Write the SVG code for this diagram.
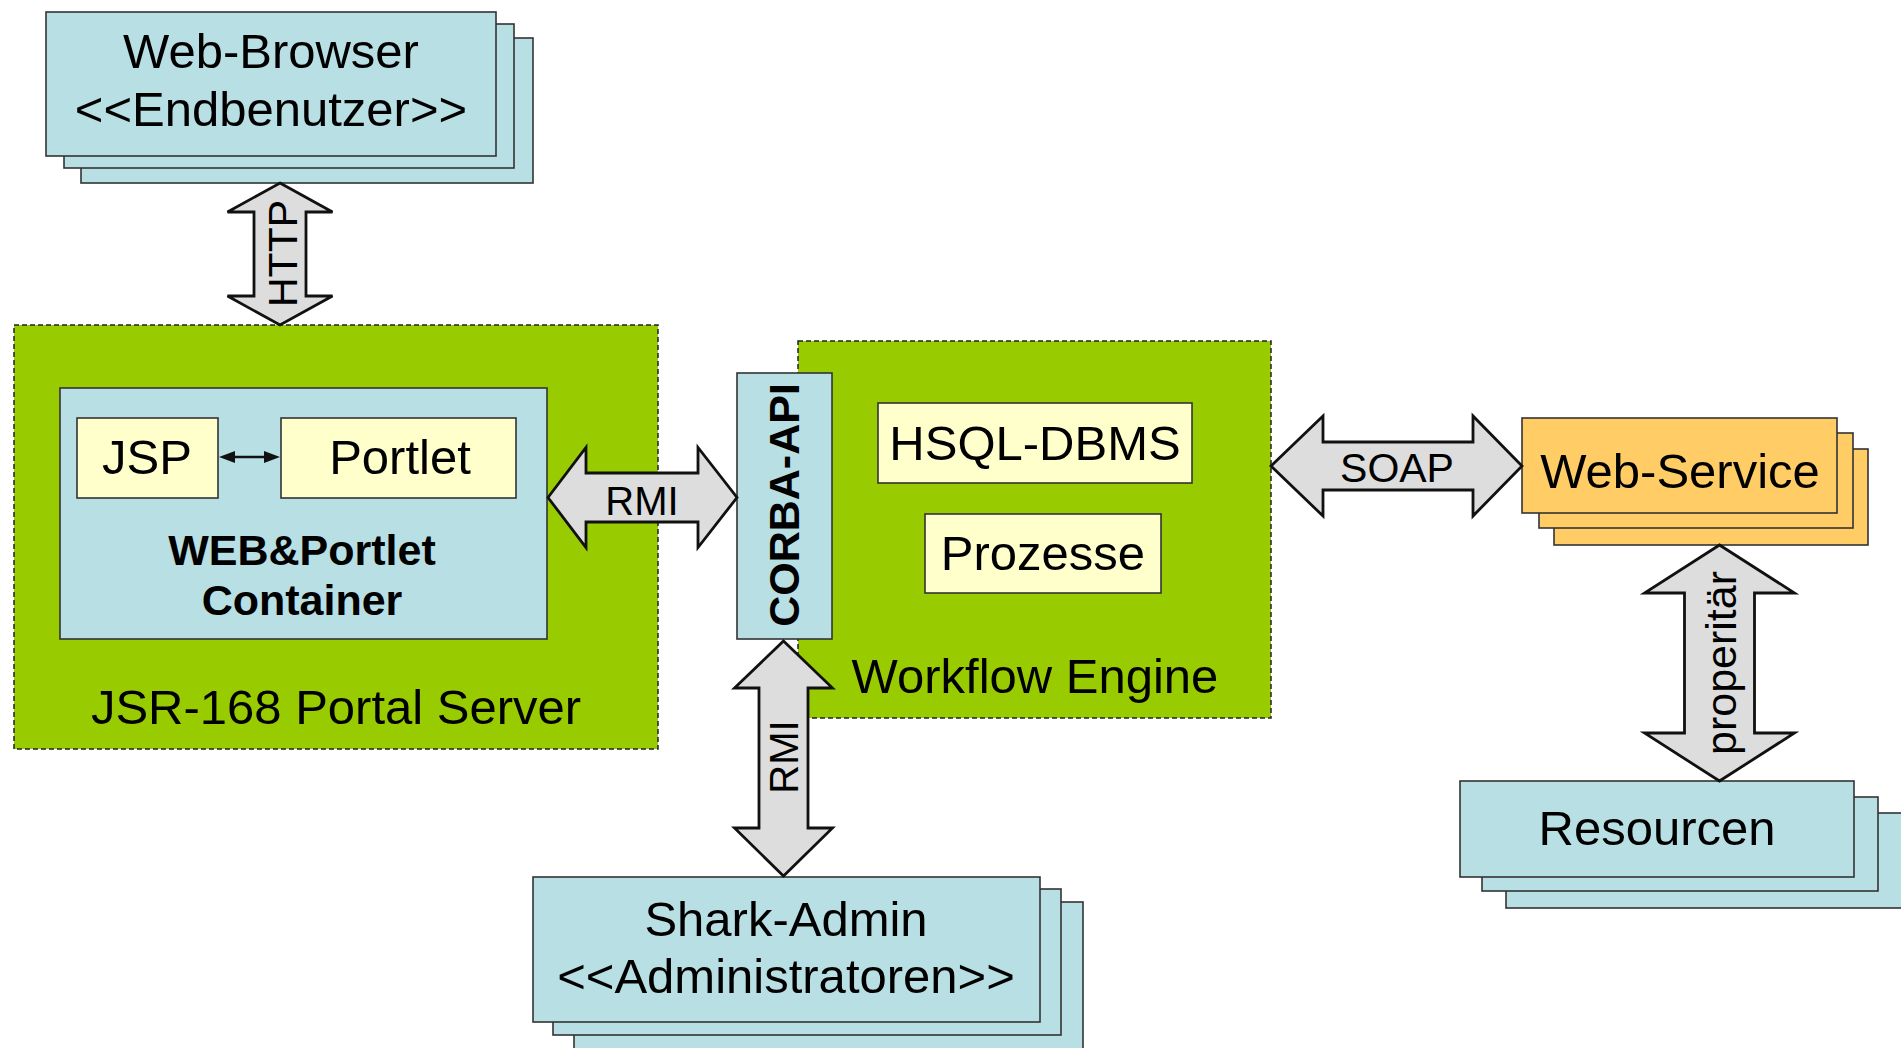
<svg xmlns="http://www.w3.org/2000/svg" width="1901" height="1048" viewBox="0 0 1901 1048">
<style>
text{font-family:"Liberation Sans",Arial,sans-serif;fill:#000;}
.t49{font-size:49px;text-anchor:middle;}
.lbl{text-anchor:middle;}
.blue{fill:#B8DFE3;stroke:#333;stroke-width:1.6;}
.yel{fill:#FFFFCC;stroke:#333;stroke-width:1.6;}
.org{fill:#FFCC66;stroke:#333;stroke-width:1.6;}
.grn{fill:#99CC00;stroke:#222;stroke-width:1.5;stroke-dasharray:5 3;}
.arr{fill:#DDDDDD;stroke:#111;stroke-width:2.8;stroke-linejoin:miter;}
.bold{font-weight:bold;}
</style>
<rect width="1901" height="1048" fill="#fff"/>

<g id="portal-server">
<rect class="grn" x="14" y="325" width="644" height="424"/>
<text class="t49" x="336" y="724">JSR-168 Portal Server</text>
</g>

<g id="workflow-engine">
<rect class="grn" x="798" y="341" width="473" height="377"/>
<text class="t49" x="1035" y="693">Workflow Engine</text>
</g>

<g id="container">
<rect class="blue" x="60" y="388" width="487" height="251"/>
<text class="bold lbl" x="302" y="565" font-size="43">WEB&amp;Portlet</text>
<text class="bold lbl" x="302" y="615" font-size="43">Container</text>
</g>

<g id="jsp">
<rect class="yel" x="77" y="418" width="141" height="80"/>
<text class="t49" x="147" y="474">JSP</text>
</g>

<g id="portlet">
<rect class="yel" x="281" y="418" width="235" height="80"/>
<text class="t49" x="400" y="474">Portlet</text>
</g>

<g id="hsql">
<rect class="yel" x="878" y="403" width="314" height="80"/>
<text class="t49" x="1035" y="460">HSQL-DBMS</text>
</g>

<g id="prozesse">
<rect class="yel" x="925" y="514" width="236" height="79"/>
<text class="t49" x="1043" y="570">Prozesse</text>
</g>

<g id="corba-api">
<rect class="blue" x="737" y="373" width="95" height="266"/>
<text class="bold lbl" font-size="43" transform="translate(799,505) rotate(-90)">CORBA-API</text>
</g>

<g id="web-browser">
<rect class="blue" x="81" y="38" width="452" height="145"/>
<rect class="blue" x="64" y="24" width="450" height="144"/>
<rect class="blue" x="46" y="12" width="450" height="144"/>
<text class="t49" x="271" y="68">Web-Browser</text>
<text class="t49" x="271" y="126">&lt;&lt;Endbenutzer&gt;&gt;</text>
</g>

<g id="web-service">
<rect class="org" x="1554" y="449" width="314" height="96"/>
<rect class="org" x="1539" y="433" width="314" height="95"/>
<rect class="org" x="1522" y="418" width="315" height="95"/>
<text class="t49" x="1680" y="488">Web-Service</text>
</g>

<g id="resourcen">
<rect class="blue" x="1506" y="813" width="400" height="95"/>
<rect class="blue" x="1482" y="797" width="396" height="94"/>
<rect class="blue" x="1460" y="781" width="394" height="96"/>
<text class="t49" x="1657" y="845">Resourcen</text>
</g>

<g id="shark-admin">
<rect class="blue" x="574" y="902" width="509" height="160"/>
<rect class="blue" x="553" y="889" width="508" height="146"/>
<rect class="blue" x="533" y="877" width="507" height="145"/>
<text class="t49" x="786" y="936">Shark-Admin</text>
<text class="t49" x="786" y="993">&lt;&lt;Administratoren&gt;&gt;</text>
</g>

<g id="connectors">
<g id="http">
<polygon class="arr" points="280,183 332.5,212 306,212 306,296 332.5,296 280,325 227.5,296 254,296 254,212 227.5,212"/>
<text class="lbl" font-size="41" transform="translate(297,253.5) rotate(-90)">HTTP</text>
</g>
<g id="rmi-portal">
<polygon class="arr" points="548,497.5 586,447.5 586,473 698,473 698,447.5 737,497.5 698,547.5 698,522 586,522 586,547.5"/>
<text class="lbl" font-size="40" x="642" y="515">RMI</text>
</g>
<g id="rmi-admin">
<polygon class="arr" points="783.5,641 832.5,688 808,688 808,828 832.5,828 783.5,876 734.5,828 759,828 759,688 734.5,688"/>
<text class="lbl" font-size="40" transform="translate(798,757) rotate(-90)">RMI</text>
</g>
<g id="soap">
<polygon class="arr" points="1271,466 1323,416 1323,442 1473,442 1473,416 1522,466 1473,516 1473,490 1323,490 1323,516"/>
<text class="lbl" font-size="41" x="1397" y="482">SOAP</text>
</g>
<g id="proprietaer">
<polygon class="arr" points="1719.5,545 1794.5,593 1754.5,593 1754.5,733 1794.5,733 1719.5,781 1644.5,733 1684.5,733 1684.5,593 1644.5,593"/>
<text class="lbl" font-size="43" transform="translate(1736,663) rotate(-90)">properitär</text>
</g>
<g id="jsp-portlet">
<line x1="230" y1="457" x2="269" y2="457" stroke="#111" stroke-width="2.5"/>
<polygon points="219,457 235,451 235,463" fill="#111"/>
<polygon points="280,457 264,451 264,463" fill="#111"/>
</g>
</g>
</svg>
